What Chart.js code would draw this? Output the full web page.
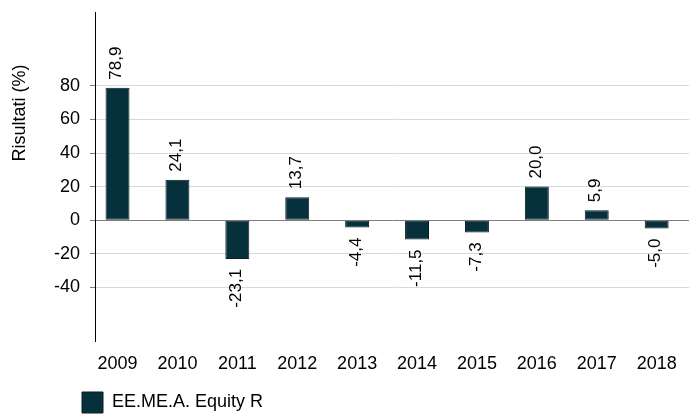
<!DOCTYPE html>
<html>
<head>
<meta charset="utf-8">
<script src="https://cdn.jsdelivr.net/npm/chart.js@4/dist/chart.umd.min.js"></script>
<style>
  html, body { margin: 0; padding: 0; background: #fff; }
  #wrap { position: relative; width: 690px; height: 414px; }
</style>
</head>
<body>
<div id="wrap"><canvas id="chart"></canvas></div>
<script>
// Data
const years = ['2009', '2010', '2011', '2012', '2013', '2014', '2015', '2016', '2017', '2018'];
const returns = [78.9, 24.1, -23.1, 13.7, -4.4, -11.5, -7.3, 20.0, 5.9, -5.0];
const yTicks = [-40, -20, 0, 20, 40, 60, 80];
const seriesName = 'EE.ME.A. Equity R';
const axisTitle = 'Risultati (%)';

const FONT = "'Liberation Sans', Arial, sans-serif";
const BAR_FILL = '#06303b';
const LEGEND_PAD = 17;

const fmt = v => v.toFixed(1).replace('.', ',');

// value labels, rotated, above positive bars and below negative ones
const barLabels = {
    id: 'barLabels',
    afterDatasetsDraw(chart) {
        const ctx = chart.ctx;
        const meta = chart.getDatasetMeta(0);
        ctx.save();
        ctx.font = '17px ' + FONT;
        ctx.fillStyle = '#000';
        ctx.textBaseline = 'middle';
        meta.data.forEach((bar, i) => {
            const v = returns[i];
            ctx.save();
            if (v >= 0) {
                ctx.translate(bar.x - 1, bar.y - 8);
                ctx.rotate(-Math.PI / 2);
                ctx.textAlign = 'left';
            } else {
                ctx.translate(bar.x - 1, bar.y + 10);
                ctx.rotate(-Math.PI / 2);
                ctx.textAlign = 'right';
            }
            ctx.fillText(fmt(v), 0, 0);
            ctx.restore();
        });
        ctx.restore();
    }
};

// y axis title sits higher than the plot centre in the original
const yTitle = {
    id: 'yTitle',
    afterDraw(chart) {
        const { ctx, chartArea } = chart;
        ctx.save();
        ctx.font = '18px ' + FONT;
        ctx.fillStyle = '#000';
        ctx.textAlign = 'center';
        ctx.textBaseline = 'middle';
        ctx.translate(chartArea.left - 75, chartArea.top + 101);
        ctx.rotate(-Math.PI / 2);
        ctx.fillText(axisTitle, 0, 0);
        ctx.restore();
    }
};

// legend item starts under the tick labels, not at the canvas edge
const legendShift = {
    id: 'legendShift',
    afterLayout(chart) {
        if (chart.legend) chart.legend.left = chart.chartArea.left - 13 - LEGEND_PAD;
    }
};

new Chart(document.getElementById('chart'), {
    type: 'bar',
    data: {
        datasets: [{
            label: seriesName,
            data: years.map((y, i) => ({ x: i, y: returns[i] })),
            backgroundColor: BAR_FILL,
            borderColor: '#0b1c22',
            borderWidth: 1,
            borderSkipped: false,
            barPercentage: 0.4,
            categoryPercentage: 1
        }]
    },
    options: {
        responsive: true,
        maintainAspectRatio: false,
        animation: false,
        layout: { padding: { left: 0, right: 1, top: 12, bottom: -9 } },
        plugins: {
            tooltip: { enabled: false },
            legend: {
                position: 'bottom',
                align: 'start',
                labels: {
                    boxWidth: 21,
                    boxHeight: 21,
                    padding: LEGEND_PAD,
                    color: '#000',
                    font: { family: FONT, size: 18 }
                }
            }
        },
        scales: {
            x: {
                type: 'linear',
                offset: false,
                min: -0.376,
                max: 9.54,
                grid: { display: false, offset: false, drawTicks: false },
                border: { display: false },
                afterBuildTicks: scale => {
                    scale.ticks = years.map((y, i) => ({ value: i }));
                },
                afterFit: scale => {
                    scale.height = 34;
                    scale.paddingLeft = 0;
                    scale.paddingRight = 0;
                },
                ticks: {
                    autoSkip: false,
                    maxRotation: 0,
                    padding: 12,
                    color: '#000',
                    font: { family: FONT, size: 18 },
                    callback: v => years[v] ?? ''
                }
            },
            y: {
                min: -72,
                max: 124,
                afterFit: scale => {
                    scale.width = 95;
                    scale.paddingTop = 0;
                    scale.paddingBottom = 0;
                },
                afterBuildTicks: scale => {
                    scale.ticks = yTicks.map(v => ({ value: v }));
                },
                border: { display: true, color: '#000', width: 1 },
                grid: {
                    color: c => (c.tick && c.tick.value === 0 ? '#7f7f7f' : '#d9d9d9'),
                    tickColor: '#7f7f7f',
                    tickLength: 5,
                    drawTicks: true
                },
                ticks: {
                    padding: 10,
                    color: '#000',
                    font: { family: FONT, size: 18 }
                }
            }
        }
    },
    plugins: [barLabels, yTitle, legendShift]
});
</script>
</body>
</html>
